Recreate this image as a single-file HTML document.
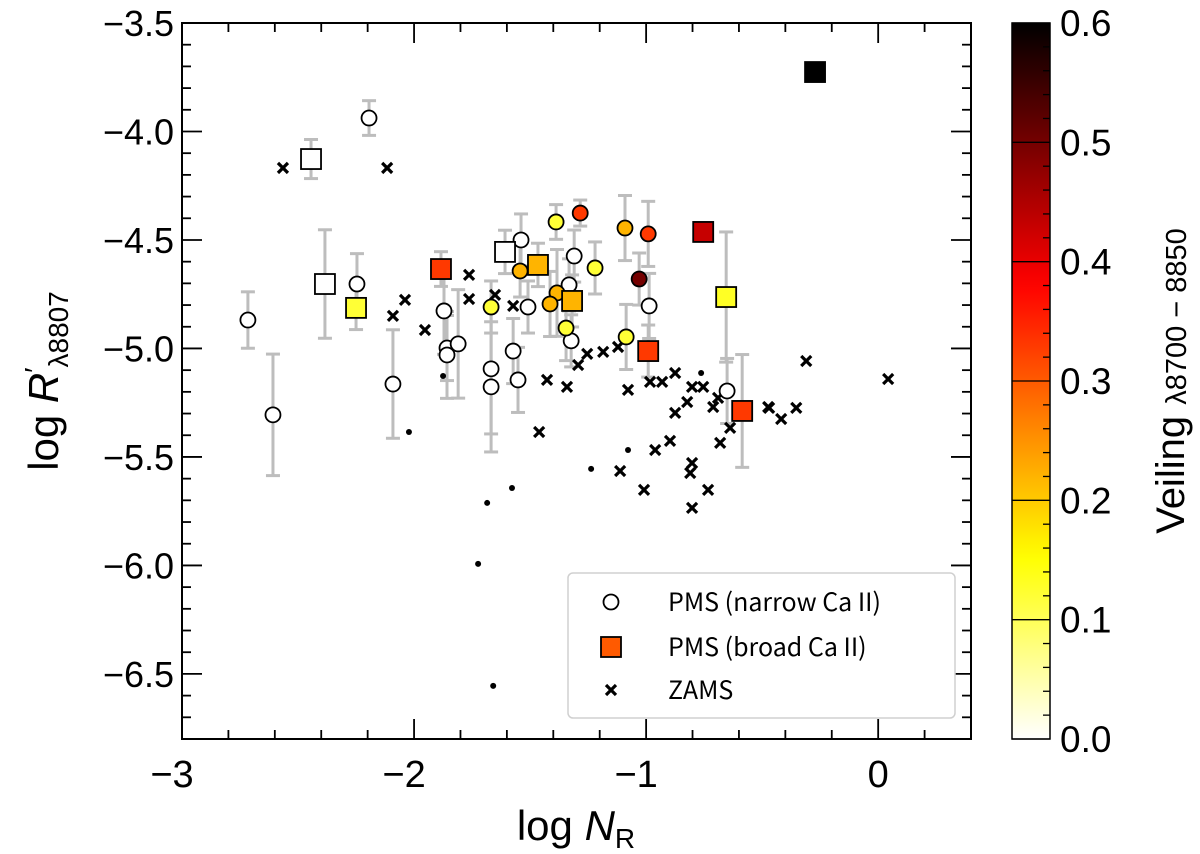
<!DOCTYPE html>
<html><head><meta charset="utf-8"><style>
html,body{margin:0;padding:0;background:#fff;}
svg{display:block;font-family:"Liberation Sans","Noto Sans CJK JP",sans-serif;}
</style></head><body>
<svg id="chart" width="1200" height="854" viewBox="0 0 1200 854" xmlns="http://www.w3.org/2000/svg">
<defs>
<linearGradient id="cbgrad" x1="0" y1="1" x2="0" y2="0"></linearGradient>
</defs>
<g id="plot"></g>
</svg>
<script>
// ---- data ----
const narrowX = [-2.194,-2.716,-2.608,-2.246,-1.871,-1.858,-1.858,-1.810,-2.091,-1.539,-1.310,-1.332,-1.509,-1.323,-0.987,-1.573,-1.668,-1.668,-1.552,-0.651,-1.543,-1.388,-1.284,-1.220,-1.091,-0.991,-1.030,-1.668,-1.384,-1.414,-1.345,-1.086];
const narrowY = [-3.938,-4.869,-5.306,-4.703,-4.827,-4.998,-5.030,-4.979,-5.164,-4.500,-4.574,-4.707,-4.809,-4.965,-4.804,-5.012,-5.094,-5.177,-5.145,-5.196,-4.643,-4.417,-4.376,-4.629,-4.445,-4.472,-4.680,-4.809,-4.744,-4.795,-4.906,-4.947];
const narrowErr = [0.08,0.13,0.28,0.14,0.2,0.15,0.2,0.25,0.25,0.12,0.12,0.12,0.12,0.12,0.15,0.15,0.3,0.3,0.15,0.15,0.12,0.08,0.06,0.12,0.15,0.15,0.12,0.12,0.2,0.15,0.15,0.15];
const narrowVeil = [0,0,0,0,0,0,0,0,0,0,0,0,0,0,0,0,0,0,0,0,0.22,0.12,0.33,0.12,0.22,0.33,0.5,0.12,0.22,0.22,0.12,0.12];

const broadX = [-2.444,-2.384,-1.608,-2.250,-1.884,-1.466,-1.319,-0.754,-0.655,-0.991,-0.586,-0.272];
const broadY = [-4.127,-4.703,-4.555,-4.813,-4.634,-4.615,-4.781,-4.463,-4.763,-5.012,-5.288,-3.726];
const broadErr = [0.09,0.25,0.1,0.1,0.08,0.1,0.12,0,0.3,0.12,0.26,0];
const broadVeil = [0,0,0,0.12,0.33,0.22,0.22,0.43,0.13,0.33,0.33,0.6];

const zamsX = [-2.565,-2.116,-1.763,-1.763,-2.039,-2.091,-1.953,-1.651,-1.573,-1.427,-1.341,-1.293,-1.254,-1.185,-1.121,-1.078,-0.983,-0.931,-0.875,-0.802,-0.754,-0.823,-0.875,-0.711,-0.690,-0.474,-0.638,-0.681,-1.461,-0.897,-0.961,-1.112,-1.009,-0.802,-0.810,-0.733,-0.802,-0.310,0.043,-0.470,-0.418,-0.353];
const zamsY = [-4.168,-4.168,-4.661,-4.772,-4.776,-4.850,-4.915,-4.753,-4.804,-5.145,-5.177,-5.076,-5.025,-5.016,-4.993,-5.191,-5.154,-5.154,-5.113,-5.177,-5.177,-5.247,-5.297,-5.270,-5.228,-5.270,-5.366,-5.435,-5.385,-5.426,-5.468,-5.565,-5.652,-5.528,-5.574,-5.652,-5.735,-5.058,-5.141,-5.274,-5.325,-5.274];

const dotX = [-1.875,-2.022,-1.078,-1.237,-1.578,-1.685,-1.724,-1.659,-0.763];
const dotY = [-5.127,-5.385,-5.468,-5.555,-5.643,-5.712,-5.993,-6.555,-5.113];

const xTicks = [-3,-2,-1,0];
const xTickLabels = ["\u22123","\u22122","\u22121","0"];
const yTicks = [-3.5,-4.0,-4.5,-5.0,-5.5,-6.0,-6.5];
const yTickLabels = ["\u22123.5","\u22124.0","\u22124.5","\u22125.0","\u22125.5","\u22126.0","\u22126.5"];
const cbTicks = [0,0.1,0.2,0.3,0.4,0.5,0.6];
const cbTickLabels = ["0.0","0.1","0.2","0.3","0.4","0.5","0.6"];

// ---- layout ----
const L=182,R=971,T=23,B=739;
const XMIN=-3,XMAX=0.4,YMAX=-3.5,YMIN=-6.8,VMAX=0.6;
const sx=v=>L+(v-XMIN)/(XMAX-XMIN)*(R-L);
const sy=v=>T+(YMAX-v)/(YMAX-YMIN)*(B-T);
const CBL=1012,CBR=1050;
const sc=v=>B-(v/VMAX)*(B-T);
const NS='http://www.w3.org/2000/svg';
const g=document.getElementById('plot');
function mk(tag,attrs,parent){const e=document.createElementNS(NS,tag);for(const k in attrs)e.setAttribute(k,attrs[k]);(parent||g).appendChild(e);return e;}
function veilColor(v){
  const s=1-Math.min(Math.max(v/VMAX,0),1);
  const c=x=>Math.round(255*Math.min(1,Math.max(0,x)));
  return `rgb(${c(s/0.365)},${c((s-0.365)/0.381)},${c((s-0.746)/0.254)})`;
}
const grad=document.getElementById('cbgrad');
for(let k=0;k<=40;k++){const st=document.createElementNS(NS,'stop');st.setAttribute('offset',k/40);st.setAttribute('stop-color',veilColor(VMAX*k/40));grad.appendChild(st);}

// error bars
function errBar(x,y,e){
  if(!e)return;
  const px=sx(x),y1=sy(y+e),y2=sy(y-e);
  const eg=mk('g',{});
  
  
  mk('line',{x1:px,x2:px,y1:y1,y2:y2,stroke:'#bdbdbd','stroke-width':3},eg);
  mk('line',{x1:px-7,x2:px+7,y1:y1,y2:y1,stroke:'#bdbdbd','stroke-width':3},eg);
  mk('line',{x1:px-7,x2:px+7,y1:y2,y2:y2,stroke:'#bdbdbd','stroke-width':3},eg);
}
narrowX.forEach((x,i)=>errBar(x,narrowY[i],narrowErr[i]));
broadX.forEach((x,i)=>errBar(x,broadY[i],broadErr[i]));

dotX.forEach((x,i)=>{
  const d=mk('circle',{cx:sx(x),cy:sy(dotY[i]),r:3,fill:'#000'});
  
  
});
function cross(cx,cy,s,parent){
  return mk('path',{d:`M${cx-s},${cy-s}L${cx+s},${cy+s}M${cx-s},${cy+s}L${cx+s},${cy-s}`,stroke:'#000','stroke-width':3.2,fill:'none'},parent);
}
zamsX.forEach((x,i)=>{
  const p=cross(sx(x),sy(zamsY[i]),5);
  
  
});
narrowX.forEach((x,i)=>{
  const c=mk('circle',{cx:sx(x),cy:sy(narrowY[i]),r:7.5,fill:veilColor(narrowVeil[i]),stroke:'#000','stroke-width':1.8});
  
  
});
broadX.forEach((x,i)=>{
  const q=mk('rect',{x:sx(x)-10,y:sy(broadY[i])-10,width:20,height:20,fill:veilColor(broadVeil[i]),stroke:'#000','stroke-width':1.8});
  
  
});

const frame=mk('rect',{x:L,y:T,width:R-L,height:B-T,fill:'none',stroke:'#000','stroke-width':2});


for(let v=-3;v<=0.4001;v+=0.2){
  const major=Math.abs(v-Math.round(v))<1e-6;const len=major?20:9;const px=sx(v);
  mk('line',{x1:px,x2:px,y1:B,y2:B-len,stroke:'#000','stroke-width':1.8});
  mk('line',{x1:px,x2:px,y1:T,y2:T+len,stroke:'#000','stroke-width':1.8});
}
xTicks.forEach((v,i)=>{
  const t=mk('text',{x:sx(v)-(i<3?10:0),y:B+48,'font-size':38,'text-anchor':'middle',fill:'#000'});
  t.textContent=xTickLabels[i];
  
  
});
for(let k=0;k<=33;k++){
  const v=-3.5-k*0.1;const major=k%5===0;const len=major?20:9;const py=sy(v);
  mk('line',{x1:L,x2:L+len,y1:py,y2:py,stroke:'#000','stroke-width':1.8});
  mk('line',{x1:R,x2:R-len,y1:py,y2:py,stroke:'#000','stroke-width':1.8});
}
yTicks.forEach((v,i)=>{
  const t=mk('text',{x:L-8,y:sy(v)+13,'font-size':36,'text-anchor':'end',fill:'#000'});
  t.textContent=yTickLabels[i];
  
  
});
const xt=mk('text',{x:576,y:840,'font-size':42,'text-anchor':'middle',fill:'#000'});
xt.innerHTML='log <tspan font-style="italic">N</tspan><tspan font-size="28" dy="8">R</tspan>';


const yt=mk('text',{transform:'translate(58,381) rotate(-90)','font-size':42,'text-anchor':'middle',fill:'#000'});
yt.innerHTML='log <tspan font-style="italic">R</tspan><tspan dy="-14" font-size="28">′</tspan><tspan dy="24" font-size="28">λ8807</tspan>';



const lg=mk('g',{});


mk('rect',{x:568,y:573,width:387,height:145,rx:5,fill:'#fff',stroke:'#d0d0d0','stroke-width':1.5},lg);
const le1=mk('circle',{cx:611,cy:602,r:7.5,fill:'#fff',stroke:'#000','stroke-width':1.8},lg);


const le2=mk('rect',{x:601,y:637,width:20,height:20,fill:'#ff5a00',stroke:'#000','stroke-width':1.8},lg);


const le3=cross(611,690,5,lg);


[['PMS (narrow Ca II)',611],['PMS (broad Ca II)',656],['ZAMS',699]].forEach(([s,y])=>{
  const t=mk('text',{x:668,y:y,'font-size':25,fill:'#000','font-family':'"Noto Sans CJK JP","Liberation Sans",sans-serif'},lg);
  t.textContent=s;
  
  
});

const cb=mk('g',{});


mk('rect',{x:CBL,y:T,width:CBR-CBL,height:B-T,fill:'url(#cbgrad)',stroke:'#000','stroke-width':1.5},cb);
for(let k=0;k<=30;k++){
  const v=k*0.02;const py=sc(v);
  if(k%5===0){mk('line',{x1:CBL,x2:CBR,y1:py,y2:py,stroke:'#000','stroke-width':1.3},cb);}
  else mk('line',{x1:CBR-7,x2:CBR,y1:py,y2:py,stroke:'#000','stroke-width':1.3},cb);
}
cbTicks.forEach((v,i)=>{
  const t=mk('text',{x:1060,y:sc(v)+13,'font-size':37,fill:'#000'},cb);
  t.textContent=cbTickLabels[i];
  
  
});
const ct=mk('text',{transform:'translate(1184,381) rotate(-90)','font-size':40,'text-anchor':'middle',fill:'#000'});
ct.innerHTML='Veiling <tspan font-size="29" dy="2">λ8700 − 8850</tspan>';


</script>
</body></html>
